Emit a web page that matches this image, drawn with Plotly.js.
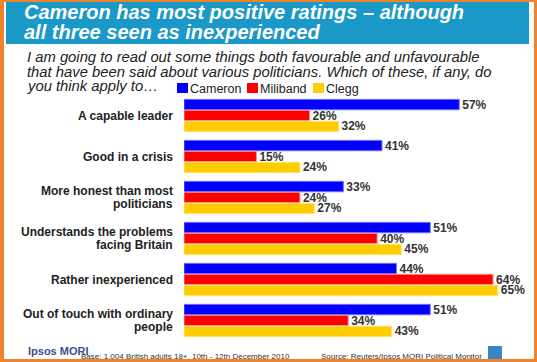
<!DOCTYPE html>
<html>
<head>
<meta charset="utf-8">
<script src="https://cdn.plot.ly/plotly-3.0.1.min.js"></script>
<style>
html,body{margin:0;padding:0;background:#fff;}
#wrap{position:relative;width:537px;height:362px;overflow:hidden;}
#chart{width:537px;height:362px;}
#frame{position:absolute;left:0;top:0;width:537px;height:362px;box-sizing:border-box;
  border-left:4px solid #f0822c;border-right:3px solid #f0822c;border-top:2px solid #f0822c;border-bottom:3px solid #f0822c;pointer-events:none;}
</style>
</head>
<body>
<div id="wrap"><div id="chart"></div><div id="frame"></div></div>
<script>
// ---- data ----
const categories = [
  "A capable leader",
  "Good in a crisis",
  "More honest than most<br>politicians",
  "Understands the problems<br>facing Britain",
  "Rather inexperienced",
  "Out of touch with ordinary<br>people"
];
const seriesNames = ["Cameron", "Miliband", "Clegg"];
const cameron  = [57, 41, 33, 51, 44, 51];
const miliband = [26, 15, 24, 40, 64, 34];
const clegg    = [32, 24, 27, 45, 65, 43];
const titleLines = ["Cameron has most positive ratings \u2013 although", "all three seen as inexperienced"];
const questionLines = [
  "I am going to read out some things both favourable and unfavourable",
  "that have been said about various politicians. Which of these, if any, do",
  "you think apply to\u2026"
];
const brandText = "Ipsos MORI";
const baseText = "Base: 1,004 British adults 18+, 10th - 12th December 2010";
const sourceText = "Source: Reuters/Ipsos MORI Political Monitor";

// ---- styling ----
const FONT = "Liberation Sans, Arial, sans-serif";
const colors = ["#0000ff", "#ff0000", "#ffcc00"];
const edgeColors = ["#7070ff", "#ff8c8c", "#ffe27a"];
const W = 537, H = 362;
const M = {l: 184, r: 15, t: 95, b: 21};
const pw = W - M.l - M.r, ph = H - M.t - M.b;
const px = p => (p - M.l) / pw;
const py = p => 1 - (p - M.t) / ph;

const allSeries = [cameron, miliband, clegg];
const traces = allSeries.map((vals, i) => ({
  type: "bar",
  orientation: "h",
  name: seriesNames[i],
  y: categories,
  x: vals,
  marker: {color: colors[i], line: {color: edgeColors[i], width: 1}},
  text: vals.map(v => "<b>" + v + "%</b>"),
  texttemplate: "%{text}",
  textposition: "outside",
  constraintext: "none",
  cliponaxis: false,
  textfont: {family: FONT, size: 12, color: "#333333"},
  hoverinfo: "skip",
  showlegend: false
}));

const annotations = [];
function ann(text, x, y, opts) {
  annotations.push(Object.assign({
    text: text, xref: "paper", yref: "paper", x: px(x), y: py(y),
    xanchor: "left", yanchor: "middle", showarrow: false,
    font: {family: FONT, size: 12, color: "#222222"}
  }, opts || {}));
}
// title
ann("<b><i>" + titleLines[0] + "</i></b>", 22, 12, {font: {family: FONT, size: 20, color: "#ffffff"}});
ann("<b><i>" + titleLines[1] + "</i></b>", 22, 32.5, {font: {family: FONT, size: 20, color: "#ffffff"}});
// question
const qY = [56.5, 71.5, 86];
questionLines.forEach((t, i) => ann("<i>" + t + "</i>", 25, qY[i], {font: {family: FONT, size: 14.8, color: "#222222"}}));
// legend
const legX = [177, 247, 313];
const shapes = [];
seriesNames.forEach((n, i) => {
  shapes.push({type: "rect", xref: "paper", yref: "paper", x0: px(legX[i]), x1: px(legX[i] + 11),
    y0: py(93), y1: py(83), fillcolor: colors[i], line: {width: 0}});
  ann(n, legX[i] + 11, 88.5, {font: {family: FONT, size: 12.5, color: "#222222"}});
});
// category labels
categories.forEach(c => {
  const lines = c.split("<br>");
  lines.forEach((ln, k) => {
    const shift = lines.length === 1 ? 0 : (k === 0 ? 6.5 : -6.5);
    annotations.push({
      text: "<b>" + ln + "</b>", xref: "paper", yref: "y", x: 0, y: c, xshift: -9, yshift: shift,
      xanchor: "right", yanchor: "middle", showarrow: false,
      font: {family: FONT, size: 12, color: "#222222"}
    });
  });
});
// footer
ann("<b>" + brandText + "</b>", 26, 350.5, {font: {family: FONT, size: 11, color: "#3d4f92"}});
ann(baseText, 79, 356, {font: {family: FONT, size: 8, color: "#333333"}});
ann(sourceText, 319, 356.5, {font: {family: FONT, size: 8, color: "#333333"}});

// title band + logo
shapes.push({type: "rect", xref: "paper", yref: "paper", layer: "below",
  x0: px(6), x1: px(529), y0: py(44), y1: py(2), fillcolor: "#1a98c8", line: {width: 0}});
shapes.push({type: "rect", xref: "paper", yref: "paper",
  x0: px(488), x1: px(502), y0: py(361), y1: py(346), fillcolor: "#3a86c0", line: {width: 0}});

const layout = {
  width: W, height: H,
  margin: M,
  paper_bgcolor: "#ffffff", plot_bgcolor: "#ffffff",
  barmode: "group", bargap: 0.2, bargroupgap: 0.05,
  xaxis: {range: [0, 70], visible: false, fixedrange: true},
  yaxis: {type: "category", autorange: "reversed", showticklabels: false, showgrid: false,
          zeroline: false, showline: false, ticks: "", fixedrange: true},
  showlegend: false,
  annotations: annotations,
  shapes: shapes,
  font: {family: FONT}
};
Plotly.newPlot("chart", traces, layout, {displayModeBar: false, staticPlot: true});
</script>
</body>
</html>
